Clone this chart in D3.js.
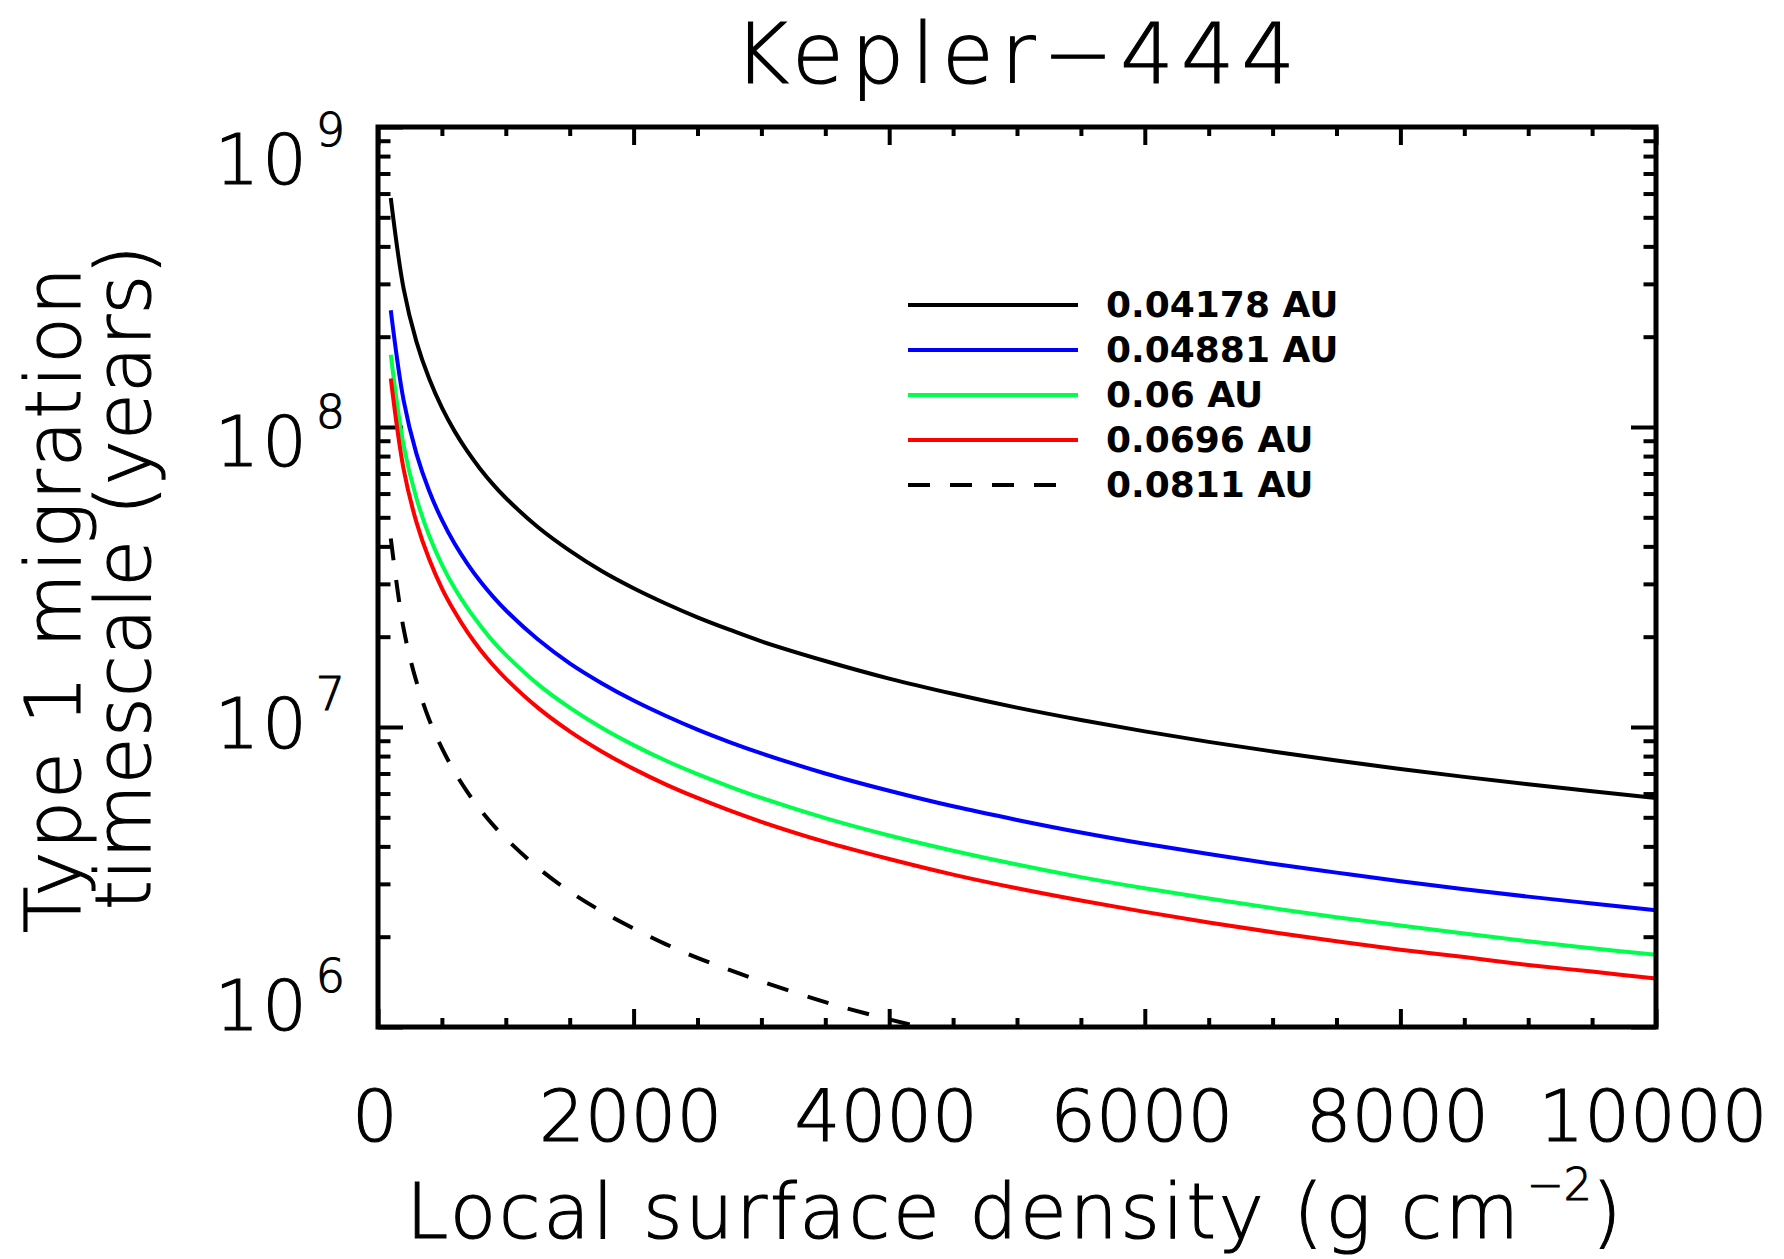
<!DOCTYPE html>
<html>
<head>
<meta charset="utf-8">
<script src="https://cdn.jsdelivr.net/npm/d3@7"></script>
<style>
  body { margin: 0; background: #fff; }
  svg text { font-family: "DejaVu Sans", sans-serif; fill: #000; font-weight: 300; stroke: #000; stroke-width: 1.1px; }
  svg text.bold { font-weight: bold; stroke: none; }
</style>
</head>
<body>
<div id="chart"></div>
<script>
// surface density samples (g cm^-2)
const sigma = [100, 200, 300, 400, 500, 600, 700, 800, 900, 1000, 1250, 1500, 1750, 2000, 2250, 2500, 2750, 3000,
  3500, 4000, 4500, 5000, 5500, 6000, 6500, 7000, 7500, 8000, 8500, 9000, 9500, 10000];

// migration timescale (years)
const t04178 = [5.80e8, 2.90e8, 1.93e8, 1.45e8, 1.16e8, 9.67e7, 8.29e7, 7.25e7, 6.44e7, 5.80e7, 4.64e7, 3.87e7, 3.31e7,
  2.90e7, 2.58e7, 2.32e7, 2.11e7, 1.93e7, 1.66e7, 1.45e7, 1.29e7, 1.16e7, 1.055e7, 9.67e6, 8.92e6, 8.29e6, 7.73e6,
  7.25e6, 6.82e6, 6.44e6, 6.11e6, 5.80e6];
const t04881 = [2.45e8, 1.23e8, 8.17e7, 6.13e7, 4.90e7, 4.08e7, 3.50e7, 3.06e7, 2.72e7, 2.45e7, 1.96e7, 1.63e7, 1.40e7,
  1.225e7, 1.09e7, 9.80e6, 8.91e6, 8.17e6, 7.00e6, 6.13e6, 5.44e6, 4.90e6, 4.45e6, 4.08e6, 3.77e6, 3.50e6, 3.27e6,
  3.06e6, 2.88e6, 2.72e6, 2.58e6, 2.45e6];
const t06 = [1.74e8, 8.70e7, 5.80e7, 4.35e7, 3.48e7, 2.90e7, 2.49e7, 2.18e7, 1.93e7, 1.74e7, 1.39e7, 1.16e7, 9.94e6,
  8.70e6, 7.73e6, 6.96e6, 6.33e6, 5.80e6, 4.97e6, 4.35e6, 3.87e6, 3.48e6, 3.16e6, 2.90e6, 2.68e6, 2.49e6, 2.32e6,
  2.18e6, 2.05e6, 1.93e6, 1.83e6, 1.74e6];
const t0696 = [1.45e8, 7.25e7, 4.83e7, 3.63e7, 2.90e7, 2.42e7, 2.07e7, 1.81e7, 1.61e7, 1.45e7, 1.16e7, 9.67e6, 8.29e6,
  7.25e6, 6.44e6, 5.80e6, 5.27e6, 4.83e6, 4.14e6, 3.63e6, 3.22e6, 2.90e6, 2.64e6, 2.42e6, 2.23e6, 2.07e6, 1.93e6,
  1.81e6, 1.71e6, 1.61e6, 1.53e6, 1.45e6];
const t0811 = [4.25e7, 2.13e7, 1.42e7, 1.06e7, 8.50e6, 7.08e6, 6.07e6, 5.31e6, 4.72e6, 4.25e6, 3.40e6, 2.83e6, 2.43e6,
  2.13e6, 1.89e6, 1.70e6, 1.55e6, 1.42e6, 1.21e6, 1.06e6, 9.44e5, 8.50e5];

const seriesNames = ["0.04178 AU", "0.04881 AU", "0.06 AU", "0.0696 AU", "0.0811 AU"];
const seriesValues = [t04178, t04881, t06, t0696, t0811];
const seriesColors = ["#000000", "#0000ff", "#00ff4c", "#ff0000", "#000000"];
const seriesDash = [null, null, null, null, "22,20"];

const xTicks = [0, 2000, 4000, 6000, 8000, 10000];
const yTicks = [1e6, 1e7, 1e8, 1e9];
const yExp = ["6", "7", "8", "9"];

const W = 1784, H = 1259;
const margin = { top: 127, left: 378 };
const width = 1278, height = 900;

const svg = d3.select("#chart").append("svg")
  .attr("width", W).attr("height", H);

const g = svg.append("g")
  .attr("transform", "translate(" + margin.left + "," + margin.top + ")");

const x = d3.scaleLinear().domain([0, 10000]).range([0, width]);
const y = d3.scaleLog().domain([1e6, 1e9]).range([height, 0]);

// minor ticks
const xMinor = d3.range(0, 10001, 500).filter(v => v % 2000 !== 0);
const yMinor = [];
[1e6, 1e7, 1e8].forEach(d => { for (let k = 2; k <= 9; k++) yMinor.push(d * k); });

function tickAxis(axisFn, scale, values, size, transform) {
  const a = g.append("g")
    .attr("transform", transform)
    .call(axisFn(scale).tickValues(values).tickSize(size).tickFormat(""));
  a.select(".domain").remove();
  a.selectAll(".tick line").attr("stroke", "#000").attr("stroke-width", 4);
}

tickAxis(d3.axisTop, x, xTicks, 18, "translate(0," + height + ")");
tickAxis(d3.axisTop, x, xMinor, 9, "translate(0," + height + ")");
tickAxis(d3.axisBottom, x, xTicks, 18, "translate(0,0)");
tickAxis(d3.axisBottom, x, xMinor, 9, "translate(0,0)");
tickAxis(d3.axisRight, y, yTicks, 25, "translate(0,0)");
tickAxis(d3.axisRight, y, yMinor, 12.5, "translate(0,0)");
tickAxis(d3.axisLeft, y, yTicks, 25, "translate(" + width + ",0)");
tickAxis(d3.axisLeft, y, yMinor, 12.5, "translate(" + width + ",0)");

// clip curves to the frame
svg.append("defs").append("clipPath").attr("id", "clip")
  .append("rect").attr("width", width).attr("height", height);

const line = d3.line()
  .x(d => x(d[0]))
  .y(d => y(d[1]))
  .curve(d3.curveCatmullRom.alpha(0.5));

const curves = g.append("g").attr("clip-path", "url(#clip)");
seriesValues.forEach((vals, i) => {
  const pts = vals.map((v, j) => [sigma[j], v]);
  curves.append("path")
    .attr("d", line(pts))
    .attr("fill", "none")
    .attr("stroke", seriesColors[i])
    .attr("stroke-width", 4)
    .attr("stroke-dasharray", seriesDash[i]);
});

// frame
g.append("rect")
  .attr("width", width).attr("height", height)
  .attr("fill", "none").attr("stroke", "#000").attr("stroke-width", 5);

// x tick labels
g.selectAll(".xlab").data(xTicks).enter().append("text")
  .attr("class", "xlab")
  .attr("x", d => x(d) - 3)
  .attr("y", height + 114)
  .attr("text-anchor", "middle")
  .attr("font-size", 72)
  .text(d => d);

// y tick labels (10^n)
const midY = height / 2;
yTicks.forEach((v, i) => {
  const ty = midY + (y(v) - midY) * 0.94 + 5;
  const t = g.append("text")
    .attr("x", -30)
    .attr("y", ty + 25)
    .attr("text-anchor", "end")
    .attr("font-size", 70)
    .attr("letter-spacing", 3);
  t.append("tspan").text("10");
  t.append("tspan").attr("dy", -38).attr("font-size", 46).attr("dx", 6).text(yExp[i]);
});

// title
svg.append("text")
  .attr("x", 734).attr("y", 83)
  .attr("font-size", 84)
  .attr("textLength", 561).attr("lengthAdjust", "spacing")
  .text("Kepler\u2212444");

// x axis title
svg.append("text")
  .attr("x", 406).attr("y", 1238)
  .attr("font-size", 76)
  .attr("textLength", 1113).attr("lengthAdjust", "spacing")
  .text("Local surface density (g cm");
svg.append("text")
  .attr("x", 1527).attr("y", 1200)
  .attr("font-size", 44)
  .text("\u22122");
svg.append("text")
  .attr("x", 1592).attr("y", 1238)
  .attr("font-size", 76)
  .text(")");

// y axis title, two lines
svg.append("text")
  .attr("transform", "translate(80,933) rotate(-90)")
  .attr("font-size", 76)
  .attr("textLength", 666).attr("lengthAdjust", "spacing")
  .text("Type 1 migration");
svg.append("text")
  .attr("transform", "translate(150,910) rotate(-90)")
  .attr("font-size", 76)
  .attr("textLength", 665).attr("lengthAdjust", "spacing")
  .text("timescale (years)");

// legend
const legend = svg.append("g").attr("transform", "translate(908,305)");
seriesNames.forEach((name, i) => {
  const row = legend.append("g").attr("transform", "translate(0," + i * 45 + ")");
  row.append("line")
    .attr("x1", 0).attr("x2", seriesDash[i] ? 150 : 170)
    .attr("stroke", seriesColors[i])
    .attr("stroke-width", 4)
    .attr("stroke-dasharray", seriesDash[i]);
  row.append("text")
    .attr("class", "bold")
    .attr("x", 198).attr("y", 12)
    .attr("font-size", 36)
    .text(name);
});
</script>
</body>
</html>
